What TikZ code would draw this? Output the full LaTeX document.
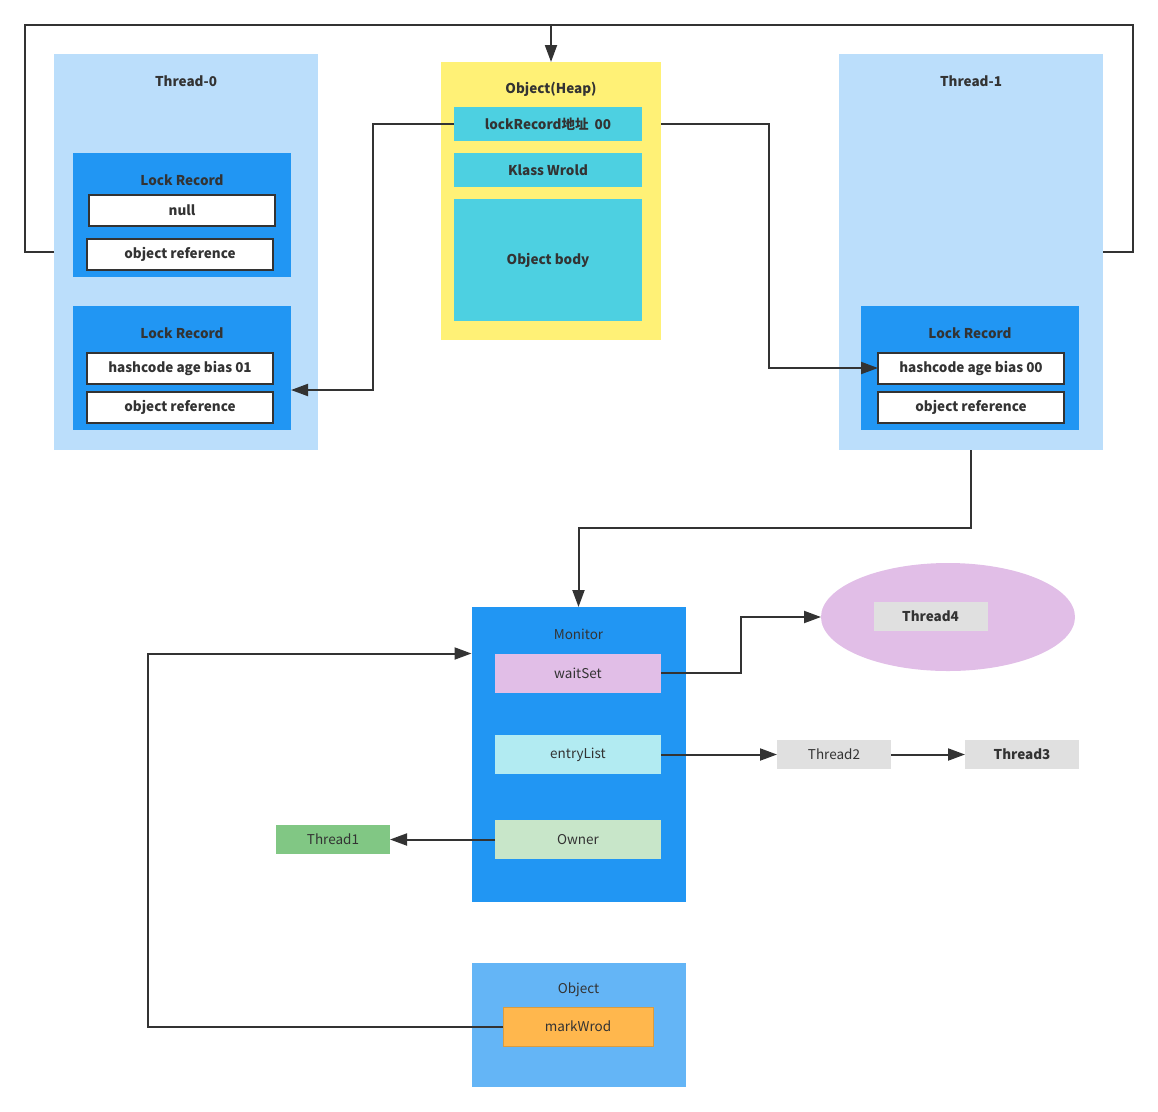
\documentclass[tikz,border=0pt]{standalone}
\usepackage{fontspec}
\setmainfont{Noto Sans CJK SC}
\newfontfamily\cjk{Noto Sans CJK SC}
\usetikzlibrary{arrows.meta,shapes.geometric}

\definecolor{txtgray}{HTML}{333333}
\definecolor{threadbg}{HTML}{BBDEFB}
\definecolor{lockbg}{HTML}{2196F3}
\definecolor{heapbg}{HTML}{FFF176}
\definecolor{cellbg}{HTML}{4DD0E1}
\definecolor{waitbg}{HTML}{E1BEE7}
\definecolor{entrybg}{HTML}{B2EBF2}
\definecolor{ownerbg}{HTML}{C8E6C9}
\definecolor{greybg}{HTML}{E0E0E0}
\definecolor{greenbg}{HTML}{81C784}
\definecolor{objbg}{HTML}{64B5F6}
\definecolor{markbg}{HTML}{FFB74D}

\begin{document}
\begin{tikzpicture}[x=1pt,y=-1pt,
  every node/.style={font=\fontsize{13.5}{15}\selectfont,text=txtgray,inner sep=0pt,outer sep=0pt},
  box/.style={rectangle,minimum width=#1},
  thread box/.style={box=264,minimum height=396,fill=threadbg},
  lock box/.style={box=218,minimum height=124,fill=lockbg},
  field/.style={box=186,minimum height=31,fill=white,draw=txtgray,line width=2pt,font=\fontsize{13.5}{15}\selectfont\bfseries},
  cell/.style={box=188,fill=cellbg,font=\fontsize{13.5}{15}\selectfont\bfseries},
  slot/.style={box=166,minimum height=39},
  tag/.style={box=114,minimum height=29,fill=greybg},
  title/.style={font=\fontsize{13.5}{15}\selectfont\bfseries},
  link/.style={draw=txtgray,line width=2pt},
  arrow/.style={link,-{Triangle[length=17pt,width=12pt]}}]

  \useasboundingbox (0,0) rectangle (1158,1111);

  % thread 0
  \node[thread box] (t0) at (186,252) {};
  \node[title] (t0title) at (186,81) {Thread-0};
  \node[lock box] (lr1) at (182,215) {};
  \node[title] at (182,180) {Lock Record};
  \node[field] (null) at (182,210.5) {null};
  \node[field] (ref1) at (180,254.5) {object reference};
  \node[lock box] (lr2) at (182,368) {};
  \node[title] at (182,333) {Lock Record};
  \node[field] (hc01) at (180,368) {hashcode age bias 01};
  \node[field] (ref2) at (180,407.5) {object reference};

  % object on the heap
  \node[box=220,minimum height=278,fill=heapbg] (heap) at (551,201) {};
  \node[title] at (551,89) {Object(Heap)};
  \node[cell,minimum height=34] (lraddr) at (548,124) {lockRecord地址\ \ 00};
  \node[cell,minimum height=34] (klass) at (548,170) {Klass Wrold};
  \node[cell,minimum height=122] (body) at (548,260) {Object body};

  % thread 1
  \node[thread box] (t1) at (971,252) {};
  \node[title] (t1title) at (971,81) {Thread-1};
  \node[lock box] (lr3) at (970,368) {};
  \node[title] at (970,333) {Lock Record};
  \node[field] (hc00) at (971,368) {hashcode age bias 00};
  \node[field] (ref3) at (971,407.5) {object reference};

  % monitor
  \node[box=214,minimum height=295,fill=lockbg] (mon) at (578.5,754.5) {};
  \node at (578.5,634) {Monitor};
  \node[slot,fill=waitbg] (ws) at (578,673) {waitSet};
  \node[slot,fill=entrybg] (el) at (578,754.5) {entryList};
  \node[slot,fill=ownerbg] (own) at (578,839.5) {Owner};

  \node[ellipse,minimum width=254,minimum height=108,fill=waitbg] (wait) at (948,617) {};
  \node[tag,font=\fontsize{13.5}{15}\selectfont\bfseries] (th4) at (930.5,616.5) {Thread4};
  \node[tag] (th2) at (834,754.5) {Thread2};
  \node[tag,font=\fontsize{13.5}{15}\selectfont\bfseries] (th3) at (1022,754.5) {Thread3};
  \node[tag,fill=greenbg] (th1) at (333,839.5) {Thread1};

  % object header
  \node[box=214,minimum height=124,fill=objbg] (obj) at (578.5,1025) {};
  \node at (578.5,990) {Object};
  \node[box=150,minimum height=39,fill=markbg,draw=markbg!85!black,line width=0.6pt] (mw) at (578,1026.5) {markWrod};

  \coordinate (topbar) at (551,25);
  \draw[arrow] (t0.west) -- ++(-29,0) |- (topbar) -- (heap.north);
  \draw[link] (t1.east) -- ++(30,0) |- (topbar);
  \draw[arrow] (lraddr.west) -- ++(-81,0) |- ([yshift=-22pt]lr2.east);
  \draw[arrow] (heap.east |- lraddr) -- ++(108,0) |- (hc00.west);
  \draw[arrow] (t1.south) -- ++(0,78) -| (mon.north);
  \draw[arrow] (ws.east) -- ++(80,0) |- (wait.west);
  \draw[arrow] (el.east) -- (th2.west);
  \draw[arrow] (th2.east) -- (th3.west);
  \draw[arrow] (own.west) -- (th1.east);
  \draw[arrow] (mw.west) -- ++(-355,0) |- (mon.west |- ws.north);
\end{tikzpicture}
\end{document}
